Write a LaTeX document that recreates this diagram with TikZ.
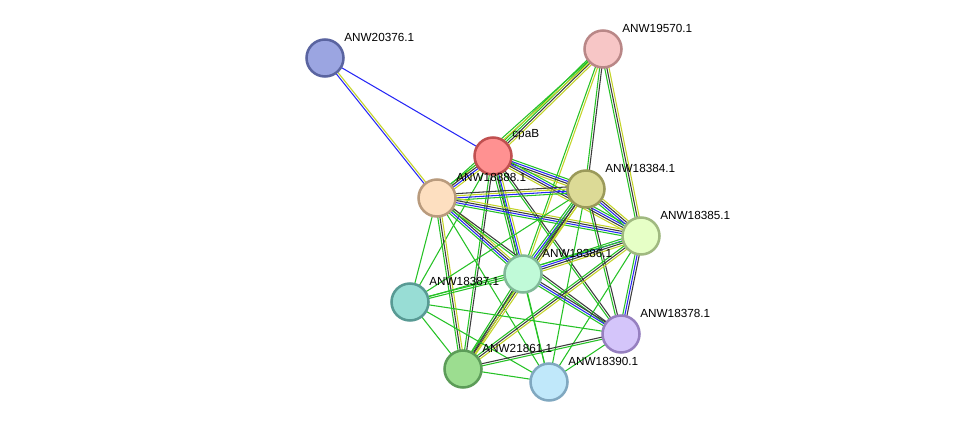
\documentclass[tikz,border=0pt]{standalone}
\usepackage{fontspec}
\setmainfont{Liberation Sans}
\usepackage{tikz}
\usetikzlibrary{calc,backgrounds}

\definecolor{lgreen}{RGB}{38,194,38}
\definecolor{lblack}{RGB}{60,60,60}
\definecolor{lblue}{RGB}{40,40,245}
\definecolor{lyellow}{RGB}{196,212,40}

\tikzset{
  prot/.style={circle, minimum size=27.75pt, inner sep=0pt, line width=1.9pt},
  tag/.style={inner sep=0pt, xshift=-0.5pt, yshift=15.75pt, font=\fontsize{8.8}{10}\selectfont},
  grn/.style={draw=lgreen, line width=0.8pt},
  blk/.style={draw=lblack, line width=0.8pt},
  blu/.style={draw=lblue, line width=0.8pt},
  ylw/.style={draw=lyellow, line width=0.8pt},
}

% one line per evidence channel, side by side
\newcommand\lnk[3]{%
  \gdef\nl{0}\foreach \c in {#3}{\pgfmathtruncatemacro\tmp{\nl+1}\global\let\nl\tmp}%
  \foreach \c [count=\i] in {#3}{%
    \pgfmathsetmacro\off{(\i-(\nl+1)/2)*1.6}%
    \draw[\c] ($(#1.center)!\off pt!90:(#2.center)$) -- ($(#2.center)!\off pt!-90:(#1.center)$);}}

\begin{document}
\begin{tikzpicture}[x=0.75pt, y=-0.75pt]
\useasboundingbox (0,0) rectangle (976,428);
\node[prot, fill={rgb,255:red,155;green,165;blue,225}, draw={rgb,255:red,90;green,100;blue,160},
  label={[tag]east:ANW20376.1}] (a20376) at (325,58) {};
\node[prot, fill={rgb,255:red,247;green,198;blue,198}, draw={rgb,255:red,185;green,135;blue,135},
  label={[tag]east:ANW19570.1}] (a19570) at (603,49) {};
\node[prot, fill={rgb,255:red,255;green,145;blue,145}, draw={rgb,255:red,192;green,80;blue,80},
  label={[tag]east:cpaB}] (cpab) at (493,156) {};
\node[prot, fill={rgb,255:red,253;green,223;blue,192}, draw={rgb,255:red,185;green,155;blue,125},
  label={[tag]east:ANW18388.1}] (a18388) at (437,198) {};
\node[prot, fill={rgb,255:red,220;green,218;blue,150}, draw={rgb,255:red,155;green,154;blue,90},
  label={[tag]east:ANW18384.1}] (a18384) at (586,189) {};
\node[prot, fill={rgb,255:red,230;green,255;blue,198}, draw={rgb,255:red,160;green,185;blue,128},
  label={[tag]east:ANW18385.1}] (a18385) at (641,236) {};
\node[prot, fill={rgb,255:red,192;green,250;blue,216}, draw={rgb,255:red,128;green,185;blue,152},
  label={[tag]east:ANW18386.1}] (a18386) at (523,274) {};
\node[prot, fill={rgb,255:red,152;green,221;blue,213}, draw={rgb,255:red,88;green,154;blue,148},
  label={[tag]east:ANW18387.1}] (a18387) at (410,302) {};
\node[prot, fill={rgb,255:red,212;green,197;blue,250}, draw={rgb,255:red,150;green,128;blue,192},
  label={[tag]east:ANW18378.1}] (a18378) at (621,334) {};
\node[prot, fill={rgb,255:red,156;green,221;blue,144}, draw={rgb,255:red,92;green,156;blue,88},
  label={[tag]east:ANW21861.1}] (a21861) at (463,369) {};
\node[prot, fill={rgb,255:red,192;green,232;blue,250}, draw={rgb,255:red,128;green,168;blue,192},
  label={[tag]east:ANW18390.1}] (a18390) at (549,382) {};
\begin{pgfonlayer}{background}
\lnk{a20376}{cpab}{blu}
\lnk{a20376}{a18388}{blu,ylw}
\lnk{a19570}{cpab}{grn,grn,blk,ylw}
\lnk{a19570}{a18388}{grn,ylw}
\lnk{a19570}{a18386}{grn,ylw}
\lnk{a19570}{a18384}{grn,blk}
\lnk{a19570}{a18385}{grn,blk,ylw}
% core of the cluster
\lnk{cpab}{a18388}{grn,blk,blu,ylw}
\lnk{cpab}{a18384}{ylw,blk,blu,grn}
\lnk{cpab}{a18385}{ylw,blk,blu,grn}
\lnk{cpab}{a18386}{grn,blk,blu,ylw}
\lnk{cpab}{a18387}{grn}
\lnk{cpab}{a21861}{grn,blk}
\lnk{cpab}{a18378}{grn,blk}
\lnk{cpab}{a18390}{grn}
\lnk{a18388}{a18384}{grn,blu,ylw,blk}
\lnk{a18388}{a18385}{grn,blu,blk,ylw}
\lnk{a18388}{a18386}{grn,blu,blk,ylw}
\lnk{a18388}{a18387}{grn}
\lnk{a18388}{a21861}{grn,blk,ylw}
\lnk{a18388}{a18378}{grn,blk}
\lnk{a18388}{a18390}{grn}
\lnk{a18384}{a18385}{grn,blu,blk,ylw}
\lnk{a18384}{a18386}{grn,blu,blk,ylw}
\lnk{a18384}{a18387}{grn}
\lnk{a18384}{a21861}{grn,blk,ylw}
\lnk{a18384}{a18378}{grn,blk}
\lnk{a18384}{a18390}{grn}
\lnk{a18385}{a18386}{grn,blu,blk,ylw}
\lnk{a18385}{a18387}{grn}
\lnk{a18385}{a21861}{grn,blk,ylw}
\lnk{a18385}{a18378}{grn,blu,blk}
\lnk{a18385}{a18390}{grn}
\lnk{a18386}{a18387}{grn,grn}
\lnk{a18386}{a21861}{grn,blk,ylw}
\lnk{a18386}{a18378}{grn,blu,blk}
\lnk{a18386}{a18390}{grn}
\lnk{a18387}{a21861}{grn}
\lnk{a18387}{a18378}{grn}
\lnk{a18387}{a18390}{grn}
\lnk{a21861}{a18378}{grn,blk}
\lnk{a21861}{a18390}{grn}
\lnk{a18378}{a18390}{grn}
\end{pgfonlayer}
\end{tikzpicture}
\end{document}
